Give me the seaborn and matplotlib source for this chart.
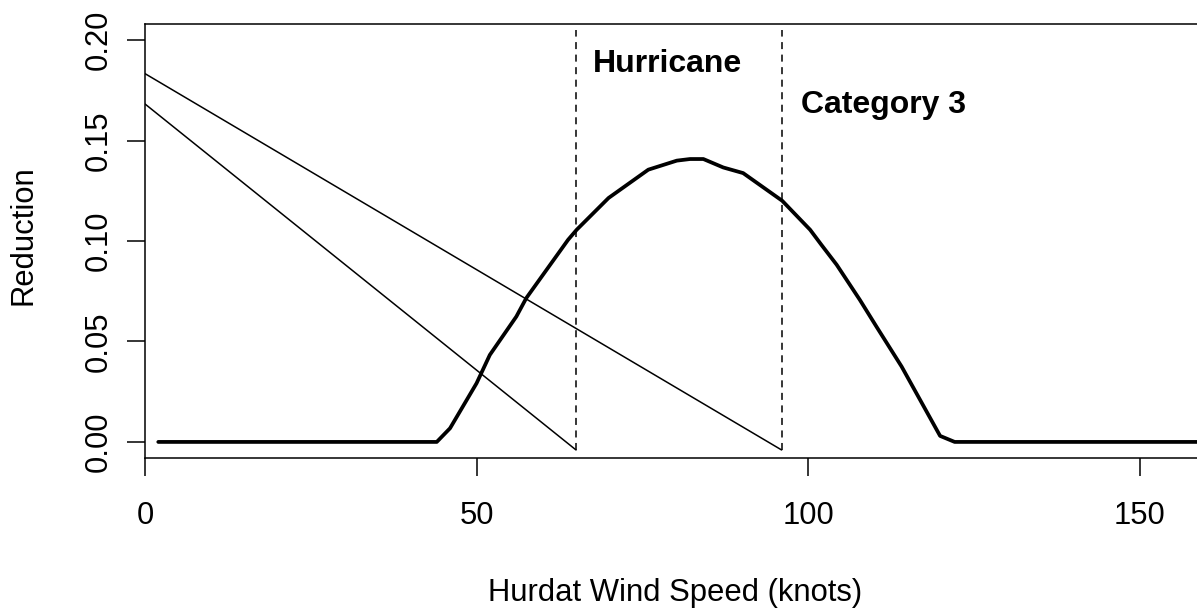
import matplotlib
matplotlib.use("Agg")
import matplotlib.pyplot as plt
import seaborn as sns
import pandas as pd

# ---- data ----
curve_x = [2, 44, 46, 50, 52, 56, 57.5, 63.8, 65.1, 69.9, 75.9, 80.2, 82.2, 84.2,
           87.2, 90.2, 96.1, 100.3, 102, 104.3, 107.8, 110.3, 114.1, 119.9, 122.1, 160]
curve_y = [0, 0, 0.0068, 0.0292, 0.0433, 0.0624, 0.0716, 0.1006, 0.1056, 0.1214,
           0.1355, 0.1400, 0.1408, 0.1408, 0.1366, 0.1338, 0.1200, 0.1056, 0.0981,
           0.0882, 0.0707, 0.0574, 0.0375, 0.0030, 0, 0]

line1_x = [0, 65]
line1_y = [0.1682, -0.004]
line2_x = [0, 96]
line2_y = [0.1833, -0.004]

thresholds = [65, 96]
thr_y = [-0.004, 0.205]

labels = ["Hurricane", "Category 3"]
label_x = [67.5, 98.95]
label_y = [0.1843, 0.1637]

x_ticks = [0, 50, 100, 150]
y_ticks = [0.00, 0.05, 0.10, 0.15, 0.20]
y_ticklabels = ["0.00", "0.05", "0.10", "0.15", "0.20"]

sns.set_theme(style="white")
plt.rcParams['font.family'] = ['Liberation Sans', 'DejaVu Sans']

fig = plt.figure(figsize=(11.97, 6.09), dpi=100)
ax = fig.add_axes([145 / 1197, 1 - 458 / 609, 1061 / 1197, 434 / 609])

df_curve = pd.DataFrame({"x": curve_x, "y": curve_y})
sns.lineplot(data=df_curve, x="x", y="y", ax=ax, color="black", lw=2.7,
             estimator=None, sort=False, solid_capstyle="round", solid_joinstyle="round")

for lx, ly in [(line1_x, line1_y), (line2_x, line2_y)]:
    d = pd.DataFrame({"x": lx, "y": ly})
    sns.lineplot(data=d, x="x", y="y", ax=ax, color="black", lw=1.1,
                 estimator=None, sort=False)

for t in thresholds:
    d = pd.DataFrame({"x": [t, t], "y": thr_y})
    sns.lineplot(data=d, x="x", y="y", ax=ax, color="black", lw=1.1,
                 estimator=None, sort=False, linestyle=(0, (4.6, 3.6)))

for s, tx, ty in zip(labels, label_x, label_y):
    ax.text(tx, ty, s, ha="left", va="baseline", fontsize=23, fontweight="bold",
            color="black")

ax.set_xlim(0, 160)
ax.set_ylim(-0.008, 0.208)
ax.set_xticks(x_ticks)
ax.set_xticklabels([str(v) for v in x_ticks])
ax.set_yticks(y_ticks)
ax.set_yticklabels(y_ticklabels, rotation=90, va="center")

for sp in ["top", "left", "bottom", "right"]:
    ax.spines[sp].set_color("black")
    ax.spines[sp].set_linewidth(1.1)

ax.tick_params(axis="both", which="major", direction="out", length=13.3, width=1.1,
               color="black", labelsize=22.3, labelcolor="black", bottom=True, left=True)
ax.tick_params(axis="x", pad=18)
ax.tick_params(axis="y", pad=9)

ax.set_xlabel("Hurdat Wind Speed (knots)", fontsize=22.3, color="black")
ax.set_ylabel("Reduction", fontsize=22.3, color="black")
ax.xaxis.label.set_va("baseline")
ax.xaxis.set_label_coords(0.5, -143 / 434)
ax.yaxis.label.set_va("center")
ax.yaxis.set_label_coords(-121.5 / 1061, 0.514)

fig.savefig("out.png", dpi=100)
